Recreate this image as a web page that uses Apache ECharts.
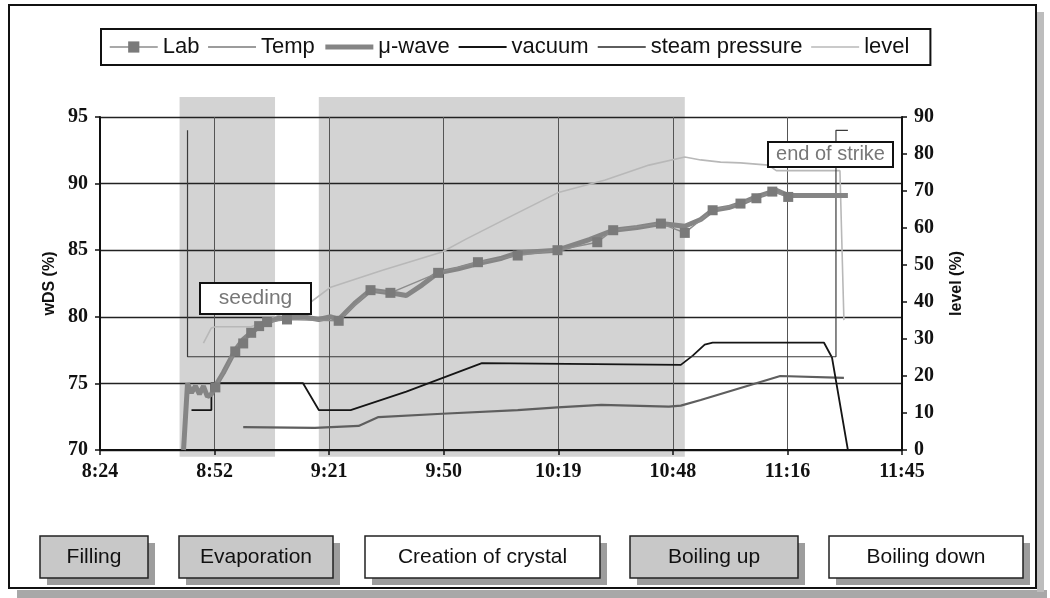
<!DOCTYPE html>
<html><head><meta charset="utf-8">
<script src="https://cdn.jsdelivr.net/npm/echarts@6/dist/echarts.min.js"></script>
<style>html,body{margin:0;padding:0;background:#fff}#c{width:1050px;height:598px}</style>
</head><body><div id="c"></div>
<script>
// ---- axis settings (minutes since 8:24 on x) ----
const xStartMinutes = 504;           // 8:24
const xSpanMinutes = 201.6;          // to 11:45.6
const xStep = 28.8;                  // Excel major unit 0.02 day
const leftTicks = [70, 95, 5];
const rightTicks = [0, 90, 10];

// ---- series data ----
const labTimes = ["8:53","8:58","9:00","9:02","9:04","9:06","9:11","9:24","9:32","9:37","9:49","9:59","10:09","10:19","10:29","10:33","10:45","10:51","10:58","11:05","11:09","11:13","11:17"];
const labValues = [74.7,77.4,78.0,78.8,79.3,79.6,79.8,79.7,82.0,81.8,83.3,84.1,84.6,85.0,85.6,86.5,87.0,86.3,88.0,88.5,88.9,89.4,89.0];

const tempTimes = ["8:46","8:46","11:29","11:29","11:32"];
const tempValues = [94.0,77.0,77.0,94.0,94.0];

const mwaveTimes = ["8:45","8:46","8:47","8:48","8:49","8:50","8:51","8:52","8:53","8:55","8:58","9:00","9:02","9:05","9:09","9:15","9:19","9:22","9:24","9:28","9:32","9:37","9:41","9:45","9:49","9:54","9:59","10:05","10:09","10:14","10:19","10:27","10:33","10:39","10:45","10:51","10:55","10:58","11:02","11:05","11:09","11:14","11:17","11:22","11:27","11:32"];
const mwaveValues = [70.0,75.0,74.3,74.8,74.2,74.8,74.0,74.2,74.8,75.8,77.5,78.3,78.8,79.5,79.9,80.0,79.8,80.0,79.8,81.0,82.0,81.8,81.6,82.4,83.3,83.6,84.0,84.4,84.8,84.9,85.0,85.8,86.5,86.7,87.0,86.8,87.3,88.0,88.2,88.5,89.0,89.5,89.1,89.1,89.1,89.1];

const vacuumTimes = ["8:47","8:52","8:52","9:15","9:19","9:27","9:41","10:00","10:50","10:53","10:56","10:58","11:26","11:28","11:32"];
const vacuumValues = [10.8,10.8,18.1,18.1,10.8,10.8,15.8,23.5,23.0,25.5,28.5,29.0,29.0,25.0,0.0];

const steamTimes = ["9:00","9:18","9:29","9:34","9:50","10:09","10:19","10:30","10:47","10:50","10:55","11:15","11:31"];
const steamValues = [6.2,6.0,6.5,8.9,9.8,10.8,11.5,12.2,11.7,12.0,13.5,20.0,19.5];

const levelTimes = ["8:50","8:52","8:53","9:02","9:17","9:22","9:35","9:50","9:56","10:07","10:19","10:31","10:42","10:51","10:55","11:00","11:05","11:12","11:14","11:30","11:31"];
const levelValues = [28.9,33.0,33.3,33.3,40.0,44.0,48.6,53.5,57.0,63.0,69.5,73.0,77.0,79.2,78.4,77.8,77.6,77.0,75.5,75.5,35.1];

// phase shading (time spans) and its vertical extent on the wDS axis
const shadeStart = ["8:44","9:19"];
const shadeEnd = ["9:08","10:51"];
const shadeTop = 96.5;
const shadeBottom = 69.5;

const phaseLabels = ["Filling","Evaporation","Creation of crystal","Boiling up","Boiling down"];
const seriesNames = ["Lab","Temp","μ-wave","vacuum","steam pressure","level"];

function tm(s){ const p = s.split(':'); return (+p[0])*60 + (+p[1]) - xStartMinutes; }
function pairs(times, vals){ return times.map((t,i)=>[tm(t), vals[i]]); }
function fmtTime(v){ const m = Math.floor(xStartMinutes + v + 1e-6); const h = Math.floor(m/60); const mm = m%60; return h + ':' + (mm<10?'0':'') + mm; }

const serif = "'Liberation Serif','Times New Roman',serif";
const sans = "'Liberation Sans',Arial,sans-serif";

const labelStyle = {fontFamily: serif, fontWeight: 'bold', fontSize: 20, color: '#111', margin: 12};
const tickStyle = {show: true, length: 5, lineStyle: {color: '#111', width: 1.5}};
const lineAxis = {show: true, lineStyle: {color: '#111', width: 2}};

const styles = {
  'Lab': {color: '#8c8c8c', width: 1.5},
  'Temp': {color: '#3a3a3a', width: 1.2},
  'μ-wave': {color: '#858585', width: 5},
  'vacuum': {color: '#151515', width: 1.8},
  'steam pressure': {color: '#5e5e5e', width: 2.2},
  'level': {color: '#b8b8b8', width: 1.6}
};

// bottom phase boxes geometry
const boxX = [40, 179, 365, 630, 829];
const boxW = [108, 154, 235, 168, 194];
const boxFill = ['#c8c8c8','#c8c8c8','#ffffff','#c8c8c8','#ffffff'];
const graphics = [];
graphics.push({type:'rect', shape:{x:17, y:590, width:1030, height:8}, style:{fill:'#a8a8a8'}, z:0});
graphics.push({type:'rect', shape:{x:1037, y:12, width:7, height:580}, style:{fill:'#bdbdbd'}, z:0});
graphics.push({type:'rect', shape:{x:9, y:5, width:1027, height:583}, style:{fill:null, stroke:'#111', lineWidth:2}, z:1});
phaseLabels.forEach((t,i)=>{
  graphics.push({type:'rect', shape:{x:boxX[i]+7, y:543, width:boxW[i], height:42}, style:{fill:'#9d9d9d'}, z:2});
  graphics.push({type:'rect', shape:{x:boxX[i], y:536, width:boxW[i], height:42}, style:{fill:boxFill[i], stroke:'#222', lineWidth:1.5}, z:3});
  graphics.push({type:'text', x:boxX[i]+boxW[i]/2, y:557, style:{text:t, font:"21px "+sans, fill:'#111', align:'center', verticalAlign:'middle'}, z:4});
});
// annotations
graphics.push({type:'rect', shape:{x:200, y:283, width:111, height:31}, style:{fill:'#fff', stroke:'#111', lineWidth:2}, z:20});
graphics.push({type:'text', x:255.5, y:298.5, style:{text:'seeding', font:"21px "+sans, fill:'#777', align:'center', verticalAlign:'middle'}, z:21});
graphics.push({type:'rect', shape:{x:768, y:142, width:125, height:25}, style:{fill:'#fff', stroke:'#111', lineWidth:2}, z:20});
graphics.push({type:'text', x:830.5, y:154.5, style:{text:'end of strike', font:"20px "+sans, fill:'#777', align:'center', verticalAlign:'middle'}, z:21});

const legendData = seriesNames.map(n => n === 'Lab'
  ? {name: n, lineStyle: {width: styles[n].width, color: styles[n].color}}
  : {name: n, itemStyle: {opacity: 0}, lineStyle: {width: styles[n].width, color: styles[n].color}});

function lineSeries(name, axis, times, vals, z){
  return {type: 'line', name: name, yAxisIndex: axis, data: pairs(times, vals),
    symbol: 'circle', showSymbol: false, symbolSize: 0,
    lineStyle: {color: styles[name].color, width: styles[name].width},
    itemStyle: {color: styles[name].color}, emphasis: {disabled: true}, z: z};
}

const chart = echarts.init(document.getElementById('c'), null, {renderer:'canvas'});
chart.setOption({
  animation: false,
  backgroundColor: '#fff',
  grid: {left: 100, right: 148, top: 117, bottom: 148, containLabel: false},
  legend: {
    data: legendData, left: 101, top: 29, orient: 'horizontal',
    itemWidth: 48, itemHeight: 14, itemGap: 8,
    padding: [7, 21, 7, 8], borderColor: '#111', borderWidth: 2,
    backgroundColor: '#fff',
    textStyle: {fontFamily: sans, fontSize: 22, color: '#111'}
  },
  xAxis: {
    type: 'value', min: 0, max: xSpanMinutes, interval: xStep,
    axisLine: lineAxis, axisTick: tickStyle,
    axisLabel: Object.assign({formatter: fmtTime}, labelStyle),
    splitLine: {show: true, lineStyle: {color: '#555', width: 1}}
  },
  yAxis: [{
    type: 'value', min: leftTicks[0], max: leftTicks[1], interval: leftTicks[2],
    name: 'wDS (%)', nameLocation: 'middle', nameGap: 32, nameRotate: 90,
    nameTextStyle: {fontFamily: sans, fontWeight: 'bold', fontSize: 16, color: '#111'},
    axisLine: lineAxis, axisTick: tickStyle, axisLabel: labelStyle,
    splitLine: {show: true, lineStyle: {color: '#222', width: 1.3}}
  },{
    type: 'value', min: rightTicks[0], max: rightTicks[1], interval: rightTicks[2], position: 'right',
    name: 'level (%)', nameLocation: 'middle', nameGap: 47, nameRotate: 90,
    nameTextStyle: {fontFamily: sans, fontWeight: 'bold', fontSize: 16, color: '#111'},
    axisLine: lineAxis, axisTick: tickStyle, axisLabel: labelStyle,
    splitLine: {show: false}
  }],
  series: [
    {type: 'custom', name: 'phases', z: -1, silent: true, yAxisIndex: 0, clip: false,
     data: shadeStart.map((s,i)=>[tm(s), tm(shadeEnd[i])]),
     encode: {x: [0,1]},
     renderItem: function(params, api){
       const p1 = api.coord([api.value(0), shadeTop]);
       const p2 = api.coord([api.value(1), shadeBottom]);
       return {type:'rect', shape:{x:p1[0], y:p1[1], width:p2[0]-p1[0], height:p2[1]-p1[1]}, style:{fill:'#d3d3d3'}};
     }},
    lineSeries('level', 1, levelTimes, levelValues, 3),
    lineSeries('steam pressure', 1, steamTimes, steamValues, 3),
    lineSeries('vacuum', 1, vacuumTimes, vacuumValues, 4),
    lineSeries('Temp', 0, tempTimes, tempValues, 4),
    lineSeries('μ-wave', 0, mwaveTimes, mwaveValues, 5),
    {type: 'line', name: 'Lab', yAxisIndex: 0, data: pairs(labTimes, labValues), symbol: 'rect', symbolSize: 10, showSymbol: true,
     lineStyle: {color: styles['Lab'].color, width: styles['Lab'].width}, itemStyle: {color: '#7a7a7a'}, emphasis: {disabled: true}, z: 6}
  ],
  graphic: graphics
});
</script></body></html>
